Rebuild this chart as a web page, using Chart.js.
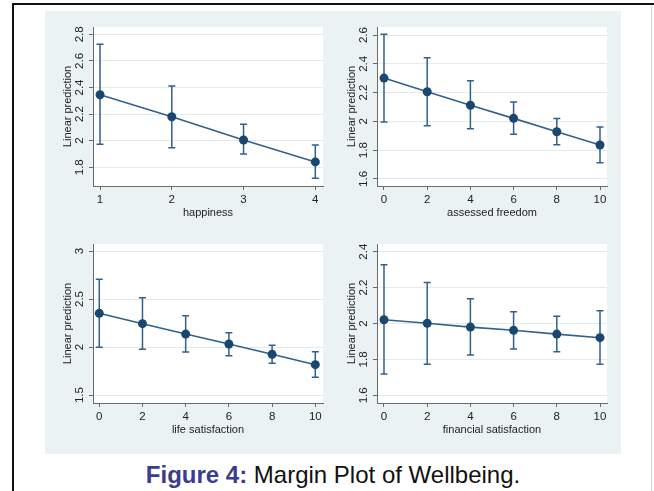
<!DOCTYPE html>
<html>
<head>
<meta charset="utf-8">
<script src="https://cdn.jsdelivr.net/npm/chart.js@4.4.1/dist/chart.umd.min.js"></script>
<style>
  body { margin: 0; width: 654px; height: 491px; background: #fff; overflow: hidden; font-family: "Liberation Sans", Arial, sans-serif; }
  #frame { position: absolute; left: 12px; top: 3px; right: 0; bottom: 0; border-top: 2px solid #111; border-left: 2px solid #111; }
  #rightLine { position: absolute; left: 651px; top: 6px; width: 1px; height: 485px; background: #d4d4d4; }
  #panel { position: absolute; left: 45px; top: 11px; width: 576px; height: 443px; background: #eaf2f3; }
  canvas { position: absolute; }
  #c1 { left: 45px; top: 11px; }
  #c2 { left: 329px; top: 11px; }
  #c3 { left: 45px; top: 228px; }
  #c4 { left: 329px; top: 228px; }
  #caption { position: absolute; left: 12px; width: 642px; top: 463px; text-align: center; font-size: 24px; line-height: 24px; color: #111; }
  #caption b { color: #3b3d8c; }
</style>
</head>
<body>
<div id="frame"></div>
<div id="rightLine"></div>
<div id="panel"></div>
<canvas id="c1" width="283" height="210"></canvas>
<canvas id="c2" width="288" height="210"></canvas>
<canvas id="c3" width="283" height="210"></canvas>
<canvas id="c4" width="288" height="210"></canvas>
<div id="caption"><b>Figure 4:</b> Margin Plot of Wellbeing.</div>

<script>
// values
const happinessX = [1, 2, 3, 4];
const happinessEst = [2.345, 2.18, 2.005, 1.84];
const happinessLo = [1.973, 1.947, 1.90, 1.717];
const happinessHi = [2.725, 2.411, 2.123, 1.968];

const scaleX = [0, 2, 4, 6, 8, 10];

const freedomEst = [2.301, 2.206, 2.112, 2.021, 1.928, 1.836];
const freedomLo = [1.996, 1.97, 1.949, 1.91, 1.838, 1.713];
const freedomHi = [2.605, 2.442, 2.283, 2.135, 2.02, 1.961];

const lifeEst = [2.351, 2.243, 2.135, 2.031, 1.924, 1.816];
const lifeLo = [1.997, 1.976, 1.948, 1.909, 1.83, 1.684];
const lifeHi = [2.705, 2.514, 2.326, 2.149, 2.018, 1.951];

const financeEst = [2.021, 2.001, 1.98, 1.962, 1.941, 1.921];
const financeLo = [1.719, 1.773, 1.824, 1.858, 1.843, 1.773];
const financeHi = [2.327, 2.229, 2.138, 2.065, 2.04, 2.071];

// tick labels
const happinessTicks = [1, 2, 3, 4];
const tenTicks = [0, 2, 4, 6, 8, 10];
const happinessYTicks = [1.8, 2, 2.2, 2.4, 2.6, 2.8];
const freedomYTicks = [1.6, 1.8, 2, 2.2, 2.4, 2.6];
const lifeYTicks = [1.5, 2, 2.5, 3];
const financeYTicks = [1.6, 1.8, 2, 2.2, 2.4];

const yTitle = 'Linear prediction';
const FONT = '"Liberation Sans", Arial, sans-serif';
const NAVY = '#1a476f';
const LINE = '#33608a';

// white plot region, capped CI lines, rotated y labels
const stataPlugin = {
    id: 'stata',
    beforeDraw(chart) {
        const a = chart.chartArea;
        const ctx = chart.ctx;
        ctx.save();
        ctx.fillStyle = '#fff';
        ctx.fillRect(a.left, a.top, a.right - a.left, a.bottom - a.top);
        ctx.restore();
    },
    beforeDatasetsDraw(chart, args, opts) {
        const ctx = chart.ctx;
        const xs = chart.scales.x, ys = chart.scales.y;
        ctx.save();
        ctx.strokeStyle = LINE;
        ctx.lineWidth = 1.5;
        for (let i = 0; i < opts.xs.length; i++) {
            const x = xs.getPixelForValue(opts.xs[i]);
            const y1 = ys.getPixelForValue(opts.lo[i]);
            const y2 = ys.getPixelForValue(opts.hi[i]);
            ctx.beginPath();
            ctx.moveTo(x, y1); ctx.lineTo(x, y2);
            ctx.moveTo(x - 3.5, y1); ctx.lineTo(x + 3.5, y1);
            ctx.moveTo(x - 3.5, y2); ctx.lineTo(x + 3.5, y2);
            ctx.stroke();
        }
        ctx.restore();
    },
    afterDraw(chart) {
        const ctx = chart.ctx;
        const a = chart.chartArea;
        const ys = chart.scales.y;
        ctx.save();
        ctx.fillStyle = '#222';
        ctx.textAlign = 'center';
        ctx.textBaseline = 'middle';
        ctx.font = '11.5px ' + FONT;
        ys.ticks.forEach(t => {
            const y = ys.getPixelForValue(t.value);
            ctx.save();
            ctx.translate(a.left - 13, y);
            ctx.rotate(-Math.PI / 2);
            ctx.fillText(String(t.value), 0, 0);
            ctx.restore();
        });
        ctx.font = '11px ' + FONT;
        ctx.translate(a.left - 25, (a.top + a.bottom) / 2);
        ctx.rotate(-Math.PI / 2);
        ctx.fillText(yTitle, 0, 0);
        ctx.restore();
    }
};

function makeChart(id, xs, est, lo, hi, xTicks, yTicks, xTitle, xMin, xMax, yMin, yMax, padRight) {
    const points = xs.map((x, i) => ({ x: x, y: est[i] }));
    return new Chart(document.getElementById(id), {
        type: 'line',
        data: {
            datasets: [{
                data: points,
                borderColor: LINE,
                borderWidth: 1.6,
                pointRadius: 4.5,
                pointBackgroundColor: NAVY,
                pointBorderWidth: 0,
                tension: 0
            }]
        },
        options: {
            responsive: false,
            animation: false,
            devicePixelRatio: 1,
            layout: { padding: { top: 16, right: padRight, left: 0, bottom: 0 } },
            plugins: {
                legend: { display: false },
                tooltip: { enabled: false },
                stata: { xs: xs, lo: lo, hi: hi }
            },
            scales: {
                x: {
                    type: 'linear',
                    min: xMin,
                    max: xMax,
                    afterBuildTicks: s => { s.ticks = xTicks.map(v => ({ value: v })); },
                    afterFit: s => { s.height = 35; },
                    border: { color: '#6a6a6a', width: 1 },
                    grid: { drawOnChartArea: false, drawTicks: true, tickLength: 4, color: '#6a6a6a' },
                    ticks: { color: '#222', font: { family: FONT, size: 11.5 }, padding: 3, maxRotation: 0, autoSkip: false },
                    title: { display: true, text: xTitle, color: '#222', font: { family: FONT, size: 11 }, padding: { top: 0, bottom: 1 } }
                },
                y: {
                    type: 'linear',
                    min: yMin,
                    max: yMax,
                    afterBuildTicks: s => { s.ticks = yTicks.map(v => ({ value: v })); },
                    afterFit: s => { s.width = 48; },
                    border: { color: '#6a6a6a', width: 1 },
                    grid: { color: '#e2ebef', tickColor: '#6a6a6a', tickLength: 4, lineWidth: 1 },
                    ticks: { display: false }
                }
            }
        },
        plugins: [stataPlugin]
    });
}

makeChart('c1', happinessX, happinessEst, happinessLo, happinessHi, happinessTicks, happinessYTicks,
    'happiness', 0.902, 4.107, 1.659, 2.855, 5);
makeChart('c2', scaleX, freedomEst, freedomLo, freedomHi, tenTicks, freedomYTicks,
    'assessed freedom', -0.324, 10.324, 1.551, 2.656, 10);
makeChart('c3', scaleX, lifeEst, lifeLo, lifeHi, tenTicks, lifeYTicks,
    'life satisfaction', -0.29, 10.356, 1.417, 3.073, 5);
makeChart('c4', scaleX, financeEst, financeLo, financeHi, tenTicks, financeYTicks,
    'financial satisfaction', -0.324, 10.324, 1.557, 2.443, 10);
</script>
</body>
</html>
